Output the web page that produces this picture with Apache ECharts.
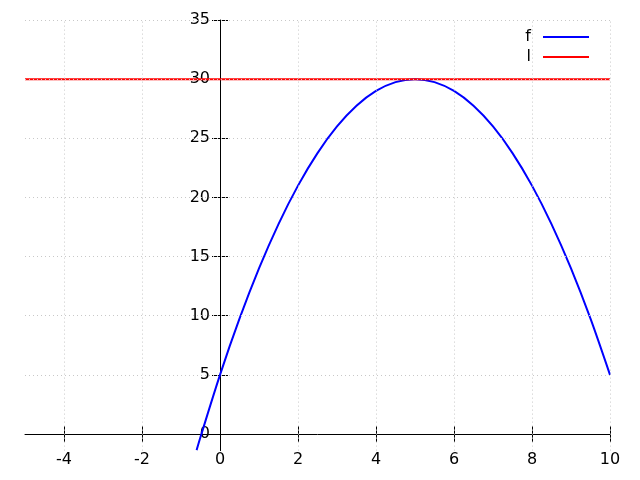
<!DOCTYPE html>
<html>
<head>
<meta charset="utf-8">
<script src="https://cdn.jsdelivr.net/npm/echarts@6/dist/echarts.min.js"></script>
<style>html,body{margin:0;padding:0;background:#fff}#c{width:640px;height:480px}</style>
</head>
<body>
<div id="c"></div>
<script>
// ---- data ----
const fX = [-0.6, -0.5, 0, 0.5, 1, 1.5, 2, 2.5, 3, 3.5, 4, 4.5, 5, 5.5, 6, 6.5, 7, 7.5, 8, 8.5, 9, 9.5, 10];
const fY = [-1.36, -0.25, 5, 9.75, 14, 17.75, 21, 23.75, 26, 27.75, 29, 29.75, 30, 29.75, 29, 27.75, 26, 23.75, 21, 17.75, 14, 9.75, 5];
const lX = [-5, 10];
const lY = [30, 30];
const xTicks = [-4, -2, 0, 2, 4, 6, 8, 10];
const yTicks = [0, 5, 10, 15, 20, 25, 30, 35];
const xGrid = [-4, -2, 2, 4, 6, 8, 10];
const yGrid = [5, 10, 15, 20, 25, 30, 35];
const seriesNames = ['f', 'l'];

const X_MIN = -5, X_MAX = 10, Y_MIN = -1.4, Y_MAX = 35;
const W = 640, H = 480;
const G = { left: 25, right: 30, top: 20, bottom: 29.4 };
const gw = W - G.left - G.right, gh = H - G.top - G.bottom;
// move axes so they cross at zero
const xAxisOffset = -gh * (0 - Y_MIN) / (Y_MAX - Y_MIN);
const yAxisOffset = -gw * (0 - X_MIN) / (X_MAX - X_MIN);

const FONT = 'DejaVu Sans';
const FS = 16;
const gridStyle = { color: '#c8c8c8', width: 1, type: [1, 3] };

function xAxisDef(inside, showLabel) {
  return {
    type: 'value', min: X_MIN, max: X_MAX, position: 'bottom', offset: xAxisOffset,
    axisLine: { show: showLabel, onZero: false, lineStyle: { color: '#000', width: 1 } },
    axisTick: { show: true, inside: inside, length: 8, customValues: xTicks, lineStyle: { color: '#000' } },
    axisLabel: { show: showLabel, customValues: xTicks, margin: 18, color: '#000', fontFamily: FONT, fontSize: FS },
    splitLine: { show: false }
  };
}
function yAxisDef(inside, showLabel) {
  return {
    type: 'value', min: Y_MIN, max: Y_MAX, position: 'left', offset: yAxisOffset,
    axisLine: { show: showLabel, onZero: false, lineStyle: { color: '#000', width: 1 } },
    axisTick: { show: true, inside: inside, length: 8, customValues: yTicks, lineStyle: { color: '#000' } },
    axisLabel: { show: showLabel, customValues: yTicks, margin: 10, color: '#000', fontFamily: FONT, fontSize: FS },
    splitLine: { show: false }
  };
}

const chart = echarts.init(document.getElementById('c'), null, { renderer: 'canvas' });
chart.setOption({
  animation: false,
  backgroundColor: '#fff',
  grid: { left: G.left, right: G.right, top: G.top, bottom: G.bottom, containLabel: false, outerBoundsMode: 'none' },
  xAxis: [xAxisDef(false, true), xAxisDef(true, false)],
  yAxis: [yAxisDef(false, true), yAxisDef(true, false)],
  legend: {
    data: seriesNames,
    orient: 'vertical',
    right: 46, top: 24,
    align: 'right',
    icon: 'rect',
    itemWidth: 46, itemHeight: 2,
    itemGap: 4,
    textStyle: { color: '#000', fontFamily: FONT, fontSize: FS, padding: [0, 7, 0, 0] }
  },
  series: [
    {
      name: 'grid', type: 'line', data: [], silent: true, z: 1,
      markLine: {
        silent: true, symbol: 'none', animation: false,
        label: { show: false },
        lineStyle: gridStyle,
        data: xGrid.map(v => ({ xAxis: v })).concat(yGrid.map(v => ({ yAxis: v })))
      }
    },
    {
      name: seriesNames[0], type: 'line', smooth: 0.3, showSymbol: false, symbol: 'none', z: 3,
      color: '#0000ff',
      lineStyle: { color: '#0000ff', width: 2 },
      data: fX.map((x, i) => [x, fY[i]])
    },
    {
      name: seriesNames[1], type: 'line', showSymbol: false, symbol: 'none', z: 3,
      color: '#ff0000',
      lineStyle: { color: '#ff0000', width: 2 },
      data: lX.map((x, i) => [x, lY[i]])
    }
  ]
});
</script>
</body>
</html>
